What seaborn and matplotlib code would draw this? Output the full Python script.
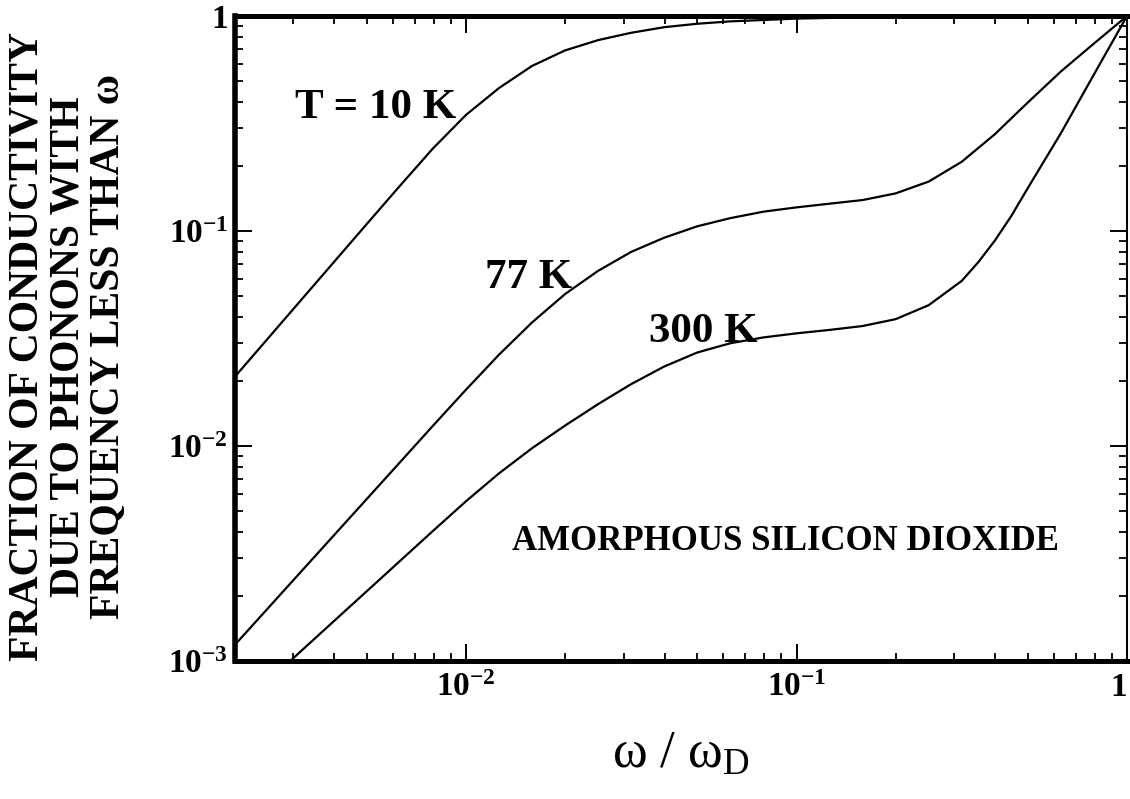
import matplotlib
matplotlib.use("Agg")
import matplotlib.pyplot as plt
import pandas as pd
import seaborn as sns
from matplotlib.ticker import FixedLocator, FixedFormatter, LogLocator, NullFormatter

# omega / omega_D  and  fraction of conductivity
w_10k = [0.001995, 0.002512, 0.003162, 0.003981, 0.005012, 0.00631, 0.007943, 0.0100,
         0.01259, 0.01585, 0.01995, 0.02512, 0.03162, 0.03981, 0.05012, 0.0631,
         0.100, 0.1585, 0.3162, 1.0]
f_10k = [0.02094, 0.03155, 0.04753, 0.07161, 0.1079, 0.1622, 0.2421, 0.3467,
         0.4624, 0.5861, 0.6918, 0.7727, 0.8356, 0.8872, 0.9204, 0.9441,
         0.9727, 0.9863, 0.9931, 1.0]

w_77k = [0.001995, 0.002512, 0.003162, 0.003981, 0.005012, 0.00631, 0.007943, 0.0100,
         0.01259, 0.01585, 0.01995, 0.02512, 0.03162, 0.03981, 0.05012, 0.0631,
         0.07943, 0.100, 0.1259, 0.1585, 0.1995, 0.2512, 0.3162, 0.3981, 0.5012,
         0.631, 0.7943, 1.0]
f_77k = [0.001186, 0.001754, 0.002594, 0.003837, 0.005675, 0.008395, 0.01242, 0.01828,
         0.02661, 0.03758, 0.05093, 0.06531, 0.07998, 0.09311, 0.1052, 0.1148,
         0.1230, 0.1288, 0.1340, 0.1393, 0.1496, 0.1698, 0.2099, 0.2818, 0.3963,
         0.5521, 0.7447, 1.0]

w_300k = [0.002938, 0.003162, 0.003981, 0.005012, 0.00631, 0.007943, 0.0100, 0.01259,
          0.01585, 0.01995, 0.02512, 0.03162, 0.03981, 0.05012, 0.0631, 0.07943,
          0.100, 0.1259, 0.1585, 0.1995, 0.2512, 0.3162, 0.3548, 0.3981, 0.4467,
          0.5012, 0.631, 0.7943, 1.0]
f_300k = [0.00100, 0.001109, 0.001531, 0.002113, 0.002917, 0.004027, 0.005534, 0.007464,
          0.009772, 0.01245, 0.01567, 0.01941, 0.02344, 0.02723, 0.03006, 0.03199,
          0.03342, 0.03467, 0.03614, 0.03890, 0.04519, 0.05861, 0.07161, 0.09016, 0.1175,
          0.1585, 0.2851, 0.5346, 1.0]

temps = ["10 K", "77 K", "300 K"]
major_ticks = [1e-3, 1e-2, 1e-1, 1.0]
tick_labels = [r"$\mathbf{10^{-3}}$", r"$\mathbf{10^{-2}}$", r"$\mathbf{10^{-1}}$", r"$\mathbf{1}$"]

df = pd.concat([
    pd.DataFrame({"w": w_10k, "frac": f_10k, "T": temps[0]}),
    pd.DataFrame({"w": w_77k, "frac": f_77k, "T": temps[1]}),
    pd.DataFrame({"w": w_300k, "frac": f_300k, "T": temps[2]}),
])

sns.set_theme(style="ticks", rc={"text.color": "black", "axes.labelcolor": "black",
                                 "xtick.color": "black", "ytick.color": "black",
                                 "axes.edgecolor": "black"})
plt.rcParams["font.family"] = ["Liberation Serif", "DejaVu Serif"]
plt.rcParams["mathtext.fontset"] = "custom"
plt.rcParams["mathtext.rm"] = "Liberation Serif"
plt.rcParams["mathtext.bf"] = "Liberation Serif:bold"
plt.rcParams["mathtext.it"] = "Liberation Serif:italic"

fig = plt.figure(figsize=(11.3, 7.99), dpi=100)
ax = fig.add_axes([235 / 1130, 1 - 661 / 799, 892 / 1130, 645 / 799])

sns.lineplot(data=df, x="w", y="frac", hue="T", palette=["black"] * 3,
             estimator=None, legend=False, linewidth=1.6, ax=ax)

ax.set_xscale("log")
ax.set_yscale("log")
ax.set_xlim(0.002, 1.0)
ax.set_ylim(1e-3, 1.0)

ax.xaxis.set_major_locator(FixedLocator(major_ticks))
ax.xaxis.set_major_formatter(FixedFormatter(tick_labels))
ax.yaxis.set_major_locator(FixedLocator(major_ticks))
ax.yaxis.set_major_formatter(FixedFormatter(tick_labels))
for axis in (ax.xaxis, ax.yaxis):
    axis.set_minor_locator(LogLocator(base=10, subs=range(2, 10), numticks=20))
    axis.set_minor_formatter(NullFormatter())

ax.tick_params(which="both", direction="in", top=True, right=True, colors="black")
ax.tick_params(which="major", length=12, width=1.4, labelsize=24)
ax.tick_params(which="minor", length=6, width=1.3)
ax.tick_params(axis="x", which="major", pad=8)
ax.tick_params(axis="y", which="major", pad=5)

for side, lw in [("left", 4.0), ("bottom", 3.6), ("top", 3.6), ("right", 1.5)]:
    ax.spines[side].set_visible(True)
    ax.spines[side].set_linewidth(lw)
    ax.spines[side].set_color("black")

ax.set_xlabel(r"ω / ω$_{\mathrm{D}}$", fontsize=38, labelpad=20)
ax.set_ylabel("FRACTION OF CONDUCTIVITY\nDUE TO PHONONS WITH\nFREQUENCY LESS THAN ω",
              fontsize=30, fontweight="bold", linespacing=1.08, ha="center", va="center")
ax.yaxis.set_label_coords(-0.187, 0.487)

ax.text(0.067, 0.842, "T = 10 K", transform=ax.transAxes, fontsize=31,
        fontweight="bold", ha="left", va="baseline")
ax.text(0.280, 0.578, "77 K", transform=ax.transAxes, fontsize=31,
        fontweight="bold", ha="left", va="baseline")
ax.text(0.464, 0.495, "300 K", transform=ax.transAxes, fontsize=31,
        fontweight="bold", ha="left", va="baseline")
ax.text(0.617, 0.172, "AMORPHOUS SILICON DIOXIDE", transform=ax.transAxes, fontsize=25,
        fontweight="bold", ha="center", va="baseline")

# the "1" at the right end of the x axis sits against the figure edge
fig.canvas.draw()
ax.xaxis.get_majorticklabels()[-1].set_horizontalalignment("right")

fig.savefig("out.png", dpi=100, facecolor="white")
